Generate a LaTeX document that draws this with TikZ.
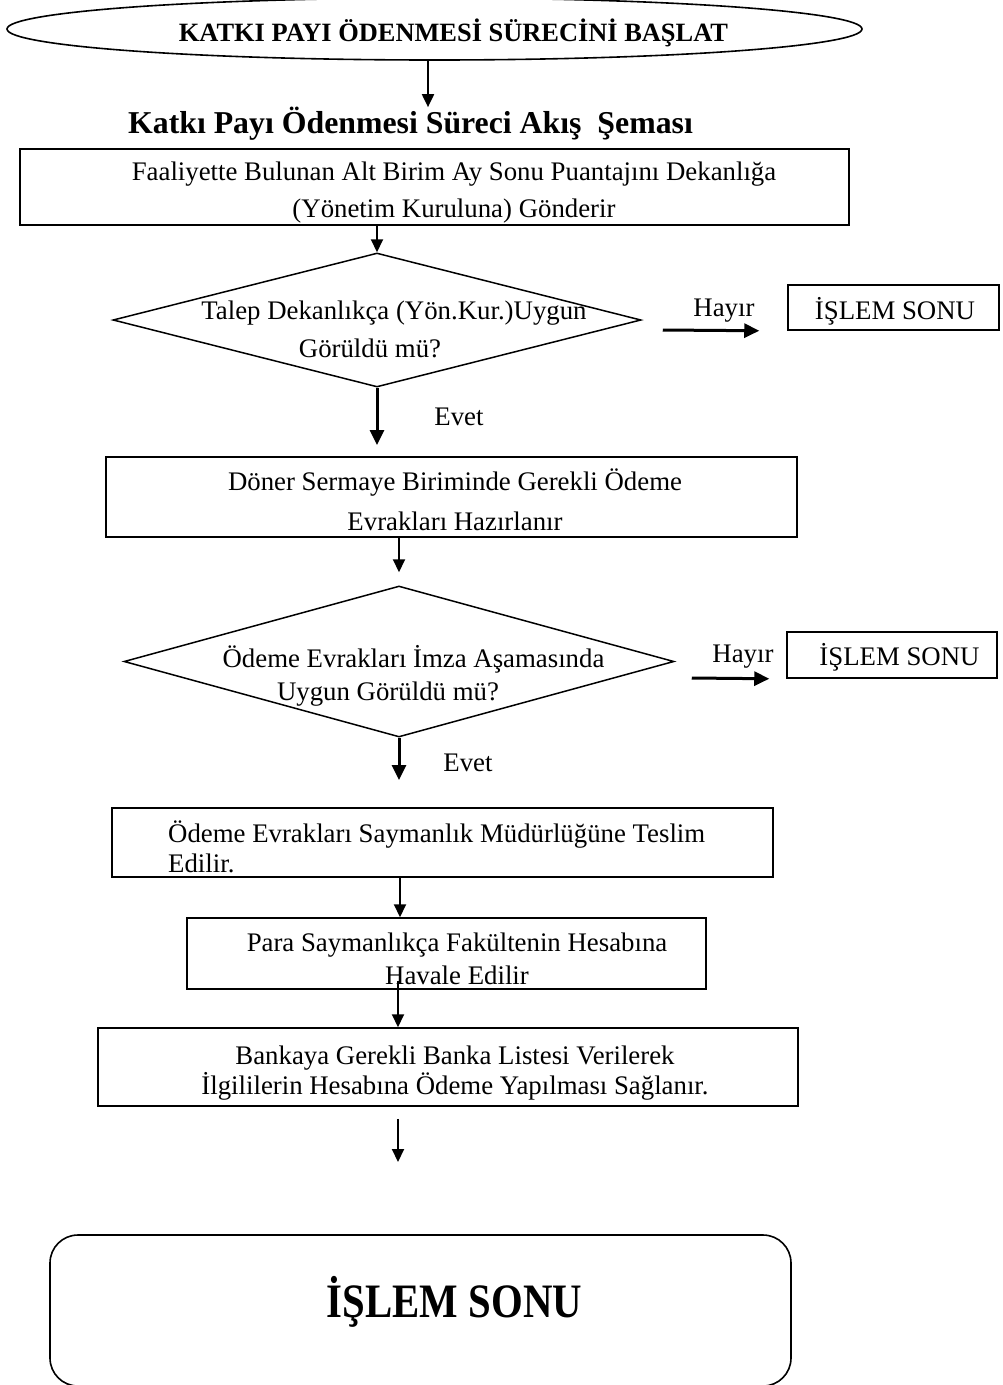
\documentclass[tikz,border=0pt]{standalone}
\usepackage{fontspec}
\setmainfont{Liberation Serif}
\newfontfamily\narrowserif[FakeStretch=0.85]{Liberation Serif}
\usetikzlibrary{shapes.geometric,arrows.meta}

\begin{document}
\begin{tikzpicture}[x=1pt,y=-1pt,
  box/.style={draw,line width=1.5pt,inner sep=0pt},
  dia/.style={draw,diamond,line width=1.5pt,inner sep=0pt},
  txt/.style={inner sep=0pt,align=center,font=\fontsize{26.8}{#1}\selectfont},
  txt/.default=36,
  arr/.style={line width=2pt,-{Triangle[width=12pt,length=13pt]}},
  harr/.style={line width=3pt,-{Triangle[width=14pt,length=15pt]}}]

\useasboundingbox (0,0) rectangle (1002,1385);

% start ellipse and title
\node[draw,ellipse,line width=1.6pt,minimum width=855pt,minimum height=62pt,inner sep=0pt] (start) at (434.5,29) {};
\node[inner sep=0pt,font=\bfseries\fontsize{26.4}{30}\selectfont] (startlbl) at (453.5,33) {KATKI PAYI ÖDENMESİ SÜRECİNİ BAŞLAT};
\node[inner sep=0pt,font=\bfseries\fontsize{31.8}{36}\selectfont] (title) at (410.5,124) {Katkı Payı Ödenmesi Süreci Akış\ \ Şeması};

% step 1
\node[box,minimum width=829pt,minimum height=76pt] (b1) at (434.5,187) {};
\node[txt=37] (t1) at (454,192.5) {Faaliyette Bulunan Alt Birim Ay Sonu Puantajını Dekanlığa\\(Yönetim Kuruluna) Gönderir};

% decision 1
\node[dia,minimum width=528pt,minimum height=134pt] (d1) at (377,320) {};
\node[txt] (d1a) at (394,313) {Talep Dekanlıkça (Yön.Kur.)Uygun};
\node[txt] (d1b) at (370,348) {Görüldü mü?};
\node[box,minimum width=211pt,minimum height=45pt] (e1) at (893.5,307.5) {};
\node[txt] (e1t) at (895,311) {İŞLEM SONU};
\node[txt] (h1) at (724,311) {Hayır};
\node[txt] (ev1) at (459,417) {Evet};
\coordinate (y1) at (377,445);

% step 2
\node[box,minimum width=691pt,minimum height=80pt] (b2) at (451.5,497) {};
\node[txt=40] (t2) at (455,500) {Döner Sermaye Biriminde Gerekli Ödeme\\Evrakları Hazırlanır};

% decision 2
\node[dia,minimum width=550pt,minimum height=151pt] (d2) at (399,661.5) {};
\node[txt] (d2a) at (413.5,659) {Ödeme Evrakları İmza Aşamasında};
\node[txt] (d2b) at (388,694) {Uygun Görüldü mü?};
\node[box,minimum width=210pt,minimum height=46pt] (e2) at (892,655) {};
\node[txt] (e2t) at (899.5,657) {İŞLEM SONU};
\node[txt] (h2) at (743,657) {Hayır};
\node[txt] (ev2) at (468,763) {Evet};
\coordinate (y2) at (399,780);

% steps 3-5
\node[box,minimum width=661pt,minimum height=69pt] (b3) at (442.5,842.5) {};
\node[txt=30,align=left,anchor=west] (t3) at (168,847) {Ödeme Evrakları Saymanlık Müdürlüğüne Teslim\\Edilir.};
\node[box,minimum width=519pt,minimum height=71pt] (b4) at (446.5,953.5) {};
\node[txt=33] (t4) at (457,958.5) {Para Saymanlıkça Fakültenin Hesabına\\Havale Edilir};
\node[box,minimum width=700pt,minimum height=78pt] (b5) at (448,1067) {};
\node[txt=30] (t5) at (455,1073) {Bankaya Gerekli Banka Listesi Verilerek\\İlgililerin Hesabına Ödeme Yapılması Sağlanır.};
\coordinate (tail) at (398,1162);

% end
\node[draw,line width=1.6pt,rounded corners=28pt,minimum width=741pt,minimum height=151pt,inner sep=0pt] (fin) at (420.5,1310.5) {};
\node[inner sep=0pt,font=\narrowserif\bfseries\fontsize{48}{54}\selectfont] (fint) at (454.5,1302) {İŞLEM SONU};

% connectors
\draw[arr] ([xshift=-6.5pt]start.south) -- ([xshift=-6.5pt]start.south |- title.north);
\draw[arr] (b1.south -| d1.north) -- (d1.north);
\draw[harr] ([xshift=21pt,yshift=-10pt]d1.east) -- ([xshift=-28pt]e1.south west);
\draw[harr] (d1.south) -- (y1);
\draw[arr] (b2.south -| d2.north) -- ([yshift=13pt]d2.north);
\draw[harr] ([xshift=17pt,yshift=-16.5pt]d2.east) -- ([xshift=-17pt]e2.south west);
\draw[harr] (d2.south) -- (y2);
\draw[arr] ([xshift=-42.5pt]b3.south) -- ([xshift=-42.5pt]b3.south |- b4.north);
\draw[arr] ([xshift=-48.5pt,yshift=9pt]b4.south) -- ([xshift=-48.5pt]b4.south |- b5.north);
\draw[arr] ([xshift=-50pt,yshift=-12pt]b5.south) -- (tail);
\end{tikzpicture}
\end{document}
